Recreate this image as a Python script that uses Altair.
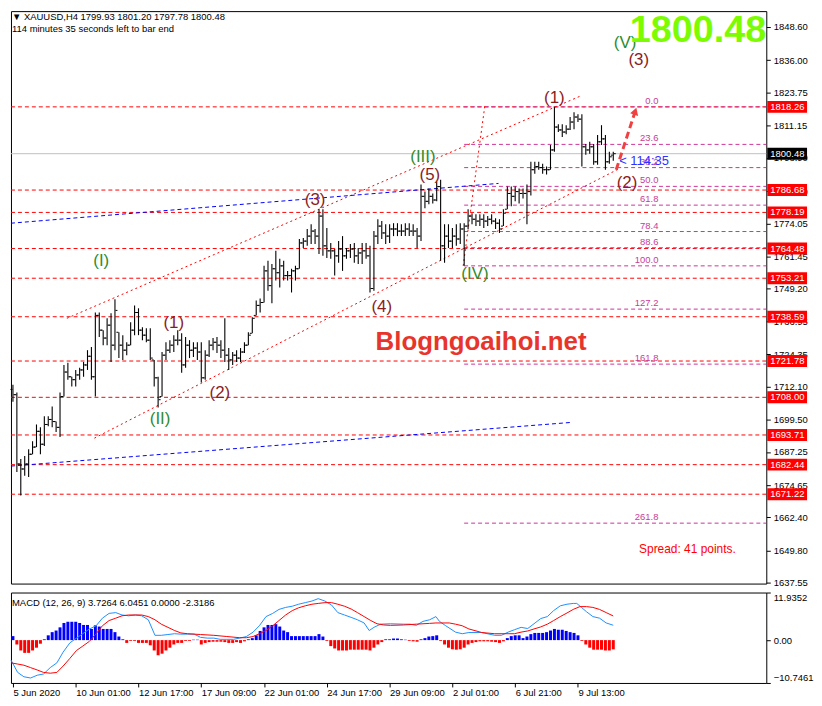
import altair as alt
import pandas as pd

W, H_MAIN, H_MACD = 760, 576, 91
FONT = "Liberation Sans"
X_DOMAIN = [-0.5, 192.0]
P_DOMAIN = [1637.3, 1854.6]
M_DOMAIN = [-10.7461, 11.9352]

# ---------------- OHLC (H4 bars, index 0 = 5 Jun 2020) ----------------
highs = [1712.8, 1709.8, 1684.6, 1685.7, 1688.3, 1691.3, 1697.7, 1696.6, 1700.8, 1700.8,
         1704.5, 1698.8, 1709.8, 1720.3, 1721.1, 1715.8, 1718.4, 1719.2, 1721.4, 1725.9,
         1727.1, 1740.2, 1740.2, 1733.5, 1738.0, 1739.9, 1745.2, 1732.7, 1731.6, 1728.9,
         1736.5, 1742.9, 1741.8, 1734.6, 1734.2, 1734.2, 1722.2, 1715.8, 1725.2, 1728.9,
         1729.7, 1731.6, 1733.5, 1732.3, 1730.9, 1729.7, 1728.9, 1728.9, 1728.9, 1725.9,
         1729.7, 1730.5, 1730.9, 1729.7, 1738.0, 1726.7, 1725.2, 1725.9, 1726.7, 1728.9,
         1732.7, 1738.4, 1744.8, 1745.5, 1757.9, 1759.8, 1758.6, 1763.6, 1760.6, 1759.8,
         1756.0, 1756.8, 1757.9, 1768.1, 1768.5, 1771.9, 1773.7, 1771.9, 1779.4, 1779.4,
         1772.3, 1766.6, 1764.3, 1767.3, 1769.2, 1764.7, 1766.2, 1766.6, 1764.7, 1766.6,
         1766.6, 1765.5, 1771.1, 1775.6, 1774.9, 1773.7, 1773.7, 1774.1, 1774.1, 1773.7,
         1774.1, 1774.1, 1773.7, 1772.3, 1788.8, 1786.1, 1787.3, 1785.4, 1789.9, 1790.6,
         1773.7, 1773.7, 1772.3, 1773.7, 1774.1, 1774.1, 1779.4, 1777.9, 1777.5, 1777.5,
         1777.5, 1776.8, 1777.5, 1776.0, 1775.6, 1779.4, 1788.0, 1788.0, 1788.0, 1787.3,
         1787.3, 1788.8, 1797.4, 1797.4, 1797.4, 1796.7, 1795.6, 1803.8, 1818.3, 1811.7,
         1811.7, 1811.3, 1814.4, 1816.2, 1815.5, 1815.5, 1804.2, 1805.0, 1804.2, 1807.6,
         1811.3, 1807.6, 1801.2, 1801.20]
lows = [1706.3, 1679.7, 1670.7, 1678.2, 1677.8, 1686.4, 1689.1, 1686.4, 1689.5, 1697.0,
        1696.6, 1694.8, 1692.9, 1708.3, 1714.7, 1712.1, 1712.1, 1714.7, 1715.8, 1718.4,
        1714.7, 1708.3, 1730.9, 1727.8, 1727.8, 1721.4, 1725.9, 1722.9, 1722.2, 1724.0,
        1727.8, 1731.6, 1731.6, 1729.7, 1728.9, 1722.2, 1712.1, 1704.1, 1708.3, 1722.2,
        1724.8, 1725.2, 1727.8, 1717.3, 1719.2, 1722.9, 1723.3, 1722.2, 1713.6, 1714.7,
        1723.3, 1725.9, 1724.8, 1722.9, 1721.4, 1718.4, 1720.3, 1721.4, 1721.4, 1724.8,
        1727.8, 1732.3, 1739.1, 1740.2, 1744.0, 1748.5, 1743.7, 1752.3, 1749.7, 1752.3,
        1752.3, 1747.8, 1752.3, 1756.8, 1764.7, 1765.5, 1766.2, 1766.2, 1762.4, 1761.7,
        1760.9, 1760.6, 1754.2, 1759.1, 1756.0, 1760.6, 1760.9, 1759.1, 1758.6, 1758.6,
        1760.6, 1747.8, 1748.5, 1766.2, 1768.1, 1766.2, 1766.6, 1769.2, 1769.2, 1769.2,
        1769.2, 1769.2, 1769.2, 1764.7, 1767.3, 1779.8, 1781.3, 1781.6, 1782.4, 1759.8,
        1759.1, 1764.7, 1764.7, 1765.5, 1766.2, 1757.9, 1771.9, 1773.7, 1773.0, 1773.0,
        1772.3, 1773.0, 1773.7, 1771.9, 1770.4, 1773.0, 1779.4, 1780.5, 1782.4, 1781.6,
        1783.5, 1773.7, 1784.6, 1792.9, 1794.4, 1792.9, 1792.6, 1794.4, 1801.2, 1808.7,
        1806.8, 1807.9, 1809.5, 1809.8, 1812.5, 1795.6, 1800.1, 1800.5, 1796.3, 1796.3,
        1803.8, 1794.4, 1796.7, 1797.78]
closes = [1709.0, 1682.7, 1680.8, 1682.7, 1686.4, 1689.1, 1695.1, 1690.2, 1697.7, 1699.6,
          1698.8, 1696.6, 1708.3, 1717.6, 1715.8, 1714.7, 1716.5, 1718.4, 1720.3, 1723.6,
          1715.8, 1739.1, 1733.5, 1730.5, 1735.4, 1727.8, 1741.0, 1727.8, 1725.9, 1727.8,
          1733.5, 1740.2, 1733.5, 1731.6, 1729.7, 1722.9, 1715.4, 1707.1, 1724.0, 1725.9,
          1727.8, 1729.7, 1729.7, 1720.3, 1727.8, 1725.9, 1726.7, 1725.2, 1715.4, 1724.0,
          1727.8, 1728.9, 1727.8, 1725.9, 1724.0, 1722.2, 1724.0, 1722.9, 1725.2, 1727.8,
          1731.6, 1738.0, 1742.9, 1744.0, 1756.0, 1750.4, 1756.8, 1755.3, 1757.9, 1754.2,
          1754.2, 1756.0, 1756.8, 1766.6, 1767.3, 1769.2, 1771.1, 1769.2, 1776.8, 1765.5,
          1763.6, 1763.6, 1761.7, 1764.3, 1761.7, 1763.6, 1764.3, 1761.7, 1762.8, 1763.6,
          1761.7, 1749.3, 1769.2, 1773.0, 1770.4, 1769.2, 1771.9, 1771.9, 1771.1, 1771.1,
          1771.9, 1771.1, 1771.1, 1769.2, 1784.3, 1782.4, 1784.3, 1782.9, 1788.0, 1765.5,
          1769.2, 1767.3, 1769.2, 1768.1, 1771.9, 1773.0, 1776.8, 1775.6, 1774.9, 1775.6,
          1774.9, 1775.6, 1774.9, 1774.1, 1771.9, 1777.9, 1785.4, 1784.3, 1786.1, 1785.4,
          1785.4, 1786.1, 1794.4, 1795.6, 1795.2, 1794.4, 1794.4, 1801.9, 1810.6, 1809.5,
          1808.7, 1809.8, 1812.5, 1814.4, 1813.6, 1803.1, 1801.9, 1803.1, 1797.4, 1805.0,
          1806.1, 1797.4, 1799.3, 1800.48]
first_open = 1711.0
last_open = 1799.93

# ---------------- MACD (12, 26, 9) ----------------
hist = [1.0, -1.1, -2.6, -3.2, -3.2, -2.6, -1.9, -0.9, 0.2, 1.2,
        2.0, 2.4, 3.2, 4.3, 4.6, 4.6, 4.6, 4.3, 3.8, 3.8,
        2.8, 3.7, 3.4, 2.8, 2.8, 2.8, 2.0, 0.9, 0.2, -0.7,
        -0.2, -0.2, -0.7, -0.7, -0.7, -1.3, -2.6, -3.8, -3.4, -2.6,
        -1.9, -1.1, -0.7, -0.7, -0.2, -0.2, 0.1, 0.1, -1.1, -0.7,
        -0.5, -0.4, -0.4, -0.4, -0.5, -0.7, -0.7, -0.5, -0.7, -0.3,
        0.2, 0.5, 1.2, 2.3, 3.2, 3.8, 3.8, 4.0, 3.4, 2.4,
        2.0, 1.0, 1.0, 1.0, 1.0, 1.0, 1.0, 1.0, 1.5, 0.9,
        -0.2, -1.5, -2.1, -2.6, -2.6, -2.6, -2.4, -2.4, -2.4, -2.4,
        -2.4, -2.6, -1.9, -1.1, -0.5, 0.2, 0.2, 0.4, 0.4, 0.2,
        0.1, -0.2, -0.3, -0.4, 0.2, 0.5, 0.9, 1.0, 1.2, -0.2,
        -1.1, -1.9, -2.3, -2.4, -2.3, -1.9, -1.1, -0.7, -0.5, -0.3,
        -0.3, -0.3, -0.4, -0.5, -0.7, -0.3, 0.5, 1.0, 1.2, 1.2,
        0.5, 0.9, 1.5, 1.8, 1.8, 1.8, 2.0, 2.4, 2.8, 2.6,
        2.6, 2.3, 2.0, 1.8, 1.2, -0.2, -1.1, -1.9, -2.4, -2.4,
        -2.4, -2.6, -2.6, -2.3186]
macd_pos = [-0.5, 1.2, 2.8, 4.5, 6.2, 7.8, 9.5, 11.2, 12.8, 14.5, 16.2, 17.8, 19.5, 21.2,
            22.8, 24.5, 26.2, 27.8, 29.5, 31.2, 32.8, 34.5, 36.2, 37.8, 39.5, 41.2, 42.8,
            44.5, 46.2, 47.8, 49.5, 51.2, 52.8, 54.5, 56.2, 57.8, 59.5, 61.2, 62.8, 64.5,
            66.2, 67.8, 69.5, 71.2, 72.8, 74.5, 76.2, 77.8, 79.5, 81.2, 82.8, 84.5, 86.2,
            87.8, 89.5, 90.8, 92.0, 93.7, 96.2, 99.5, 101.2, 102.8, 104.5, 106.2, 107.8,
            108.7, 110.3, 112.8, 114.5, 116.2, 119.5, 122.8, 124.5, 126.2, 127.8, 129.5,
            131.2, 132.8, 134.5, 136.2, 137.8, 139.5, 141.2, 142.8, 143.7, 144.9, 146.2,
            147.8, 149.5, 151.2, 153.0]
macd_val = [-5.0, -8.1, -9.2, -9.5, -8.8, -8.5, -6.9, -5.7, -3.0, -0.7, 0.5, 1.6, 2.8, 3.6,
            5.5, 6.7, 6.9, 6.3, 6.1, 6.3, 6.1, 5.1, 1.2, 1.2, 1.4, 1.6, 1.5,
            1.5, 1.5, 0.7, 0.5, 0.5, 0.2, 0.2, 0.2, 0.5, 0.9, 2.0, 3.6, 5.9,
            6.7, 7.7, 8.2, 8.5, 9.0, 9.4, 9.8, 10.4, 9.8, 8.8, 6.9, 6.3, 5.7,
            5.1, 4.3, 2.4, 3.2, 4.0, 4.1, 4.0, 4.0, 3.7, 4.7, 5.1, 5.9,
            4.7, 3.6, 2.0, 1.6, 1.9, 1.9, 1.2, 1.2, 2.0, 2.6, 3.2,
            2.9, 4.1, 5.4, 5.9, 7.4, 8.6, 9.0, 9.2, 9.2, 8.2, 7.1,
            5.9, 5.5, 4.3, 3.7264]
sig_pos = [-0.5, 1.2, 2.8, 4.5, 6.2, 7.8, 9.5, 11.2, 12.8, 14.5, 16.2, 17.8, 19.5, 21.2,
           22.8, 24.5, 26.2, 27.8, 29.5, 31.2, 32.8, 34.5, 36.2, 37.8, 39.5, 41.2, 42.8,
           44.5, 47.8, 51.2, 54.5, 57.8, 59.5, 61.2, 62.8, 64.5, 66.2, 67.8, 69.5, 71.2,
           72.8, 74.5, 76.2, 77.8, 79.5, 81.2, 82.8, 84.5, 86.2, 87.8, 89.5, 91.2, 92.8,
           94.5, 96.2, 99.5, 102.8, 106.2, 107.8, 111.2, 112.8, 114.5, 116.2, 119.5, 122.8,
           126.2, 127.8, 129.5, 131.2, 132.8, 134.5, 136.2, 137.8, 139.5, 141.2, 142.8,
           144.5, 146.2, 147.8, 149.5, 151.2, 153.0]
sig_val = [-5.7, -6.0, -6.3, -6.9, -7.5, -8.1, -8.3, -8.1, -6.5, -4.6, -2.6, -1.5, -0.3, 1.6,
           3.6, 4.9, 5.5, 6.1, 6.3, 6.3, 6.3, 5.9, 5.1, 4.0, 3.2, 2.4, 1.8,
           1.6, 1.4, 1.2, 0.9, 0.6, 0.6, 0.9, 1.6, 2.4, 3.6, 4.9, 6.3, 7.4,
           8.1, 8.6, 9.0, 9.2, 9.4, 9.4, 9.0, 8.5, 7.8, 6.9, 5.9, 4.9, 4.1,
           3.8, 3.7, 3.8, 4.0, 4.2, 4.3, 4.3, 4.0, 3.6, 2.8, 1.9, 1.6,
           1.6, 1.6, 2.0, 2.3, 2.8, 3.3, 4.0, 4.9, 5.9, 6.8, 7.7,
           8.4, 8.4, 8.2, 7.7, 6.9, 6.0451]

# ---------------- levels, labels, annotations ----------------
red_levels = [1818.26, 1786.68, 1778.19, 1764.48, 1753.21, 1738.59,
              1721.78, 1708.00, 1693.71, 1682.44, 1671.22]
current_price = 1800.48
price_ticks = [1848.60, 1836.00, 1823.75, 1811.15, 1798.90, 1786.30, 1774.05, 1761.45,
               1749.20, 1736.95, 1724.35, 1712.10, 1699.50, 1687.25, 1674.65, 1662.40,
               1649.80, 1637.55]
fib_names = ["0.0", "23.6", "38.2", "50.0", "61.8", "78.4", "88.6", "100.0", "127.2", "161.8", "261.8"]
fib_ratios = [0.0, 0.236, 0.382, 0.5, 0.618, 0.784, 0.886, 1.0, 1.272, 1.618, 2.618]
fib_high, fib_low = 1818.26, 1757.90
fib_start, fib_label_at = 115, 164.5

date_ticks = [0, 16, 32, 48, 64, 80, 96, 112, 128, 144]
date_labels = ["5 Jun 2020", "10 Jun 01:00", "12 Jun 17:00", "17 Jun 09:00", "22 Jun 01:00",
               "24 Jun 17:00", "29 Jun 09:00", "2 Jul 01:00", "6 Jul 21:00", "9 Jul 13:00"]

chan_i1 = [13.75, 20.75, 114.75]
chan_p1 = [1738.0, 1692.5, 1757.9]
chan_i2 = [145.0, 154.5, 120.25]
chan_p2 = [1822.6, 1794.8, 1818.5]
blue_i1 = [-0.5, -0.5]
blue_p1 = [1774.1, 1681.9]
blue_i2 = [123.75, 142.5]
blue_p2 = [1789.2, 1698.5]
arrow_i = [153.75, 158.6]
arrow_p = [1794.4, 1816.6]

green_text = ["(I)", "(II)", "(III)", "(IV)", "(V)"]
green_i = [22.5, 37.5, 104.5, 117.75, 156.0]
green_p = [1759.8, 1699.6, 1799.3, 1754.9, 1842.6]
maroon_text = ["(1)", "(2)", "(3)", "(4)", "(5)", "(1)", "(2)", "(3)"]
maroon_i = [41.0, 52.75, 77.0, 94.0, 106.25, 138.0, 156.5, 159.5]
maroon_p = [1736.1, 1709.8, 1782.8, 1742.1, 1792.5, 1821.5, 1789.5, 1836.2]

header1 = "\u25bc XAUUSD,H4  1799.93 1801.20 1797.78 1800.48"
header2 = "114 minutes 35 seconds left to bar end"
macd_title = "MACD (12, 26, 9) 3.7264 6.0451 0.0000 -2.3186"

# ---------------- tables ----------------
n = len(closes)
opens = [first_open] + [min(max(closes[k - 1], lows[k]), highs[k]) for k in range(1, n)]
opens[-1] = last_open
bars = pd.DataFrame({"i": list(range(n)), "high": highs, "low": lows, "open": opens, "close": closes})

xs = alt.Scale(domain=X_DOMAIN, nice=False, zero=False)
ys = alt.Scale(domain=P_DOMAIN, nice=False, zero=False)
price_axis = alt.Axis(orient="right", values=price_ticks, format=".2f", tickSize=4, tickColor="black",
                      domain=False, grid=False, labelFont=FONT, labelFontSize=9.5, labelColor="black",
                      labelPadding=3, labelOverlap=False, labelFlush=False, title=None)


def X(f):
    return alt.X(f, type="quantitative", scale=xs, axis=None)


def Y(f):
    return alt.Y(f, type="quantitative", scale=ys, axis=price_axis)


levels_df = pd.DataFrame({"p": red_levels, "t": [f"{v:.2f}" for v in red_levels]})
cur_df = pd.DataFrame({"p": [current_price], "t": [f"{current_price:.2f}"]})
fib_df = pd.DataFrame({"p": [fib_high - r * (fib_high - fib_low) for r in fib_ratios],
                       "t": fib_names, "x1": fib_start, "x2": X_DOMAIN[1], "xl": fib_label_at})
chan_df = pd.DataFrame({"i1": chan_i1, "p1": chan_p1, "i2": chan_i2, "p2": chan_p2})
blue_df = pd.DataFrame({"i1": blue_i1, "p1": blue_p1, "i2": blue_i2, "p2": blue_p2})
arrow_df = pd.DataFrame({"i1": [arrow_i[0]], "p1": [arrow_p[0]], "i2": [arrow_i[1]], "p2": [arrow_p[1]]})
green_df = pd.DataFrame({"i": green_i, "p": green_p, "t": green_text})
maroon_df = pd.DataFrame({"i": maroon_i, "p": maroon_p, "t": maroon_text})
one = pd.DataFrame({"a": [0]})

cur_line = alt.Chart(cur_df).mark_rule(color="#c0c0c0", strokeWidth=1).encode(y=Y("p"))
red_lines = alt.Chart(levels_df).mark_rule(color="#ff0000", strokeWidth=1, strokeDash=[4, 3]).encode(y=Y("p"))
fib_lines = alt.Chart(fib_df).mark_rule(color="#cc3399", strokeWidth=1, strokeDash=[4, 3]).encode(
    x=X("x1"), x2="x2", y=Y("p"))
fib_text = alt.Chart(fib_df).mark_text(align="right", baseline="bottom", dy=-1, font=FONT, fontSize=9.5,
                                       color="#c83c96").encode(x=X("xl"), y=Y("p"), text="t:N")
chan = alt.Chart(chan_df).mark_rule(color="#ff0000", strokeWidth=1, strokeDash=[2, 3]).encode(
    x=X("i1"), x2="i2", y=Y("p1"), y2="p2")
blue = alt.Chart(blue_df).mark_rule(color="#0000ff", strokeWidth=1, strokeDash=[4, 3]).encode(
    x=X("i1"), x2="i2", y=Y("p1"), y2="p2")

wick = alt.Chart(bars).mark_rule(color="black", strokeWidth=1.1).encode(x=X("i"), y=Y("low"), y2="high")
open_t = alt.Chart(bars).mark_tick(orient="horizontal", color="black", thickness=1, opacity=1, xOffset=-1.5).encode(
    x=X("i"), y=Y("open"), size=alt.value(2))
close_t = alt.Chart(bars).mark_tick(orient="horizontal", color="black", thickness=1, opacity=1, xOffset=1.5).encode(
    x=X("i"), y=Y("close"), size=alt.value(2))

arrow = alt.Chart(arrow_df).mark_rule(color="#f04040", strokeWidth=3, strokeDash=[7, 4]).encode(
    x=X("i1"), x2="i2", y=Y("p1"), y2="p2")
arrow_head = alt.Chart(arrow_df).mark_point(shape="triangle-up", filled=True, color="#f04040", opacity=1,
                                            size=70, angle=18).encode(x=X("i2"), y=Y("p2"))

green_lbl = alt.Chart(green_df).mark_text(font=FONT, fontSize=17, color="#2e8b2e", baseline="middle").encode(
    x=X("i"), y=Y("p"), text="t:N")
maroon_lbl = alt.Chart(maroon_df).mark_text(font=FONT, fontSize=17, color="#8b1c1c", baseline="middle").encode(
    x=X("i"), y=Y("p"), text="t:N")

box = alt.Chart(levels_df).mark_tick(orient="horizontal", color="#ff0000", thickness=12, opacity=1).encode(
    x=alt.value(W + 21), y=Y("p"), size=alt.value(40))
box_t = alt.Chart(levels_df).mark_text(align="left", baseline="middle", font=FONT, fontSize=9.5,
                                       color="white").encode(x=alt.value(W + 4), y=Y("p"), text="t:N")
cbox = alt.Chart(cur_df).mark_tick(orient="horizontal", color="black", thickness=12, opacity=1).encode(
    x=alt.value(W + 21), y=Y("p"), size=alt.value(40))
cbox_t = alt.Chart(cur_df).mark_text(align="left", baseline="middle", font=FONT, fontSize=9.5,
                                     color="white").encode(x=alt.value(W + 4), y=Y("p"), text="t:N")

big = alt.Chart(one).mark_text(text=f"{current_price:.2f}", align="right", baseline="alphabetic", font=FONT,
                               fontSize=38, fontWeight="bold", color="#7cfc00").encode(
    x=alt.value(W), y=alt.value(31))
mark_wm = alt.Chart(one).mark_text(text="Blogngoaihoi.net", align="center", baseline="middle", font=FONT,
                                   fontSize=26, fontWeight="bold", color="#e8352b").encode(
    x=alt.value(473), y=alt.value(333))
spread = alt.Chart(one).mark_text(text="Spread: 41 points.", align="left", baseline="middle", font=FONT,
                                  fontSize=12, color="#ff0000").encode(x=alt.value(632), y=alt.value(541))
timer = alt.Chart(one).mark_text(text="< 114:35", align="left", baseline="middle", font=FONT,
                                 fontSize=13, color="#3030ff").encode(x=alt.value(612), y=alt.value(151))
h1 = alt.Chart(one).mark_text(text=header1, align="left", baseline="middle", font=FONT, fontSize=9.5,
                              color="black").encode(x=alt.value(1), y=alt.value(6))
h2 = alt.Chart(one).mark_text(text=header2, align="left", baseline="middle", font=FONT, fontSize=9.5,
                              color="black").encode(x=alt.value(1), y=alt.value(18))

main = alt.layer(
    cur_line, red_lines, fib_lines, chan, blue, wick, open_t, close_t, fib_text,
    arrow, arrow_head, green_lbl, maroon_lbl, big, mark_wm, spread, timer, h1, h2,
    box, box_t, cbox, cbox_t,
).properties(width=W, height=H_MAIN)

# ---------------- MACD panel ----------------
label_arr = "[" + ",".join(f"'{s}'" for s in date_labels) + "]"
x_axis = alt.Axis(values=date_ticks, labelExpr=f"{label_arr}[round(datum.value / 16)]", labelAlign="left",
                  tickSize=4, tickColor="black", domain=False, grid=False, labelFont=FONT, labelFontSize=9.5,
                  labelColor="black", labelPadding=1, labelFlush=False, labelOverlap=False, title=None)
ms = alt.Scale(domain=M_DOMAIN, nice=False, zero=False)
m_axis = alt.Axis(orient="right", values=[M_DOMAIN[0], 0, M_DOMAIN[1]],
                  labelExpr="datum.value == 0 ? '0.00' : format(datum.value, '.4f')",
                  tickSize=4, tickColor="black", domain=False, grid=False, labelFont=FONT, labelFontSize=9.5,
                  labelColor="black", labelPadding=3, labelFlush=True, labelOverlap=False, title=None)

hist_df = pd.DataFrame({"i": list(range(n)), "v": hist, "z": 0.0,
                        "s": ["pos" if v > 0 else "neg" for v in hist]})
macd_df = pd.DataFrame({"i": macd_pos, "v": macd_val})
sig_df = pd.DataFrame({"i": sig_pos, "v": sig_val})

MX = alt.X("i:Q", scale=xs, axis=x_axis)


def MY(f):
    return alt.Y(f, type="quantitative", scale=ms, axis=m_axis)


hbars = alt.Chart(hist_df).mark_rule(strokeWidth=3).encode(
    x=MX, y=MY("v"), y2="z",
    color=alt.Color("s:N", scale=alt.Scale(domain=["pos", "neg"], range=["#0000ff", "#ff0000"]), legend=None))
mline = alt.Chart(macd_df).mark_line(color="#1e90ff", strokeWidth=1).encode(x=MX, y=MY("v"), order="i:Q")
sline = alt.Chart(sig_df).mark_line(color="#ff0000", strokeWidth=1).encode(x=MX, y=MY("v"), order="i:Q")
mtitle = alt.Chart(one).mark_text(text=macd_title, align="left", baseline="middle", font=FONT, fontSize=9.5,
                                  color="black").encode(x=alt.value(1), y=alt.value(11))

macd = alt.layer(hbars, mline, sline, mtitle).properties(width=W, height=H_MACD)

chart = (
    alt.vconcat(main, macd, spacing=3, padding=0, background="white")
    .configure(padding=0)
    .configure_view(stroke="black", strokeWidth=1)
)

chart.save("out.html", embed_options={"renderer": "svg", "actions": False})
